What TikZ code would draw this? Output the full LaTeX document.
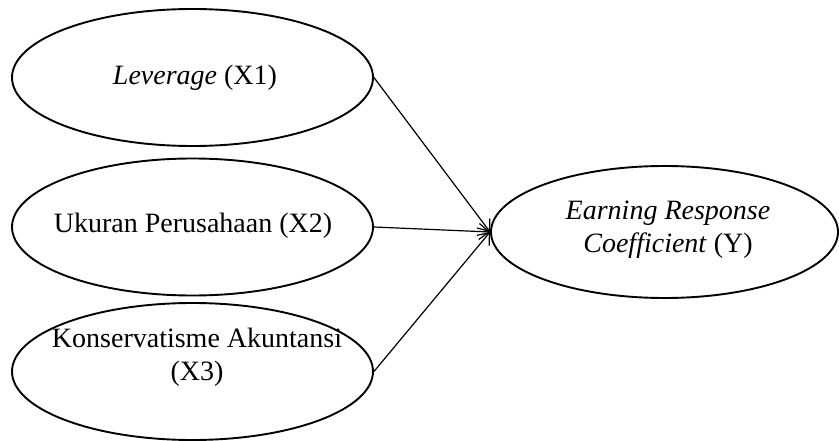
\documentclass[tikz,border=0pt]{standalone}
\usepackage{fontspec}
\setmainfont{Liberation Serif}
\usetikzlibrary{shapes.geometric,arrows.meta}
\begin{document}
\begin{tikzpicture}[x=1pt,y=1pt,
  ell/.style={draw,line width=1.9pt,ellipse,inner sep=0pt,minimum width=361pt,minimum height=137pt},
  txt/.style={font=\fontsize{28}{33}\selectfont,align=center,inner sep=0pt},
  conn/.style={line width=1.2pt,-{Straight Barb[length=10pt,width=16pt,line width=1.2pt]}}]
\useasboundingbox (0,0) rectangle (839,-441);
\node[ell] (x1) at (192.5,-77.5) {};
\node[txt] (x1t) at (195,-78) {\textit{Leverage} (X1)};
\node[ell] (x2) at (192.5,-227) {};
\node[txt] (x2t) at (193,-226) {Ukuran Perusahaan (X2)};
\node[ell] (x3) at (192.5,-371.5) {};
\node[txt] (x3t) at (197,-357) {Konservatisme Akuntansi\\(X3)};
\node[ell,minimum width=347pt,minimum height=132pt] (y) at (664.5,-232) {};
\node[txt] (yt) at (668,-230) {\textit{Earning Response}\\\textit{Coefficient} (Y)};
\draw[conn] (x1.east) -- (y.west);
\draw[conn] (x2.east) -- (y.west);
\draw[conn] (x3.east) -- (y.west);
\end{tikzpicture}
\end{document}
